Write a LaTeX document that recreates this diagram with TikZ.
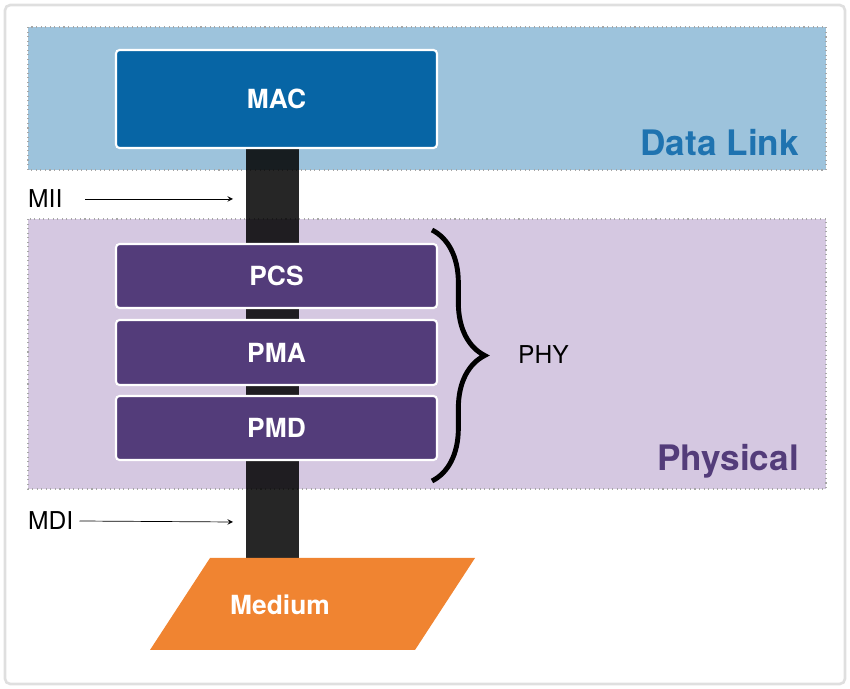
\documentclass[tikz,border=0pt]{standalone}
\usepackage{fontspec}
\setmainfont{TeX Gyre Heros}
\usetikzlibrary{decorations.pathreplacing}
\definecolor{dlband}{HTML}{9DC3DC}
\definecolor{phband}{HTML}{D5C8E1}
\definecolor{macblue}{HTML}{0765A5}
\definecolor{phypurple}{HTML}{533C7A}
\definecolor{dltext}{HTML}{1F73B0}
\definecolor{medorange}{HTML}{F08431}
\tikzset{
  band/.style={draw=gray!70, dotted, line width=0.6pt},
  layer/.style={draw=white, line width=1.2pt, rounded corners=2pt, text=white,
    font=\fontsize{15}{17}\selectfont\bfseries, minimum width=6.42cm},
  lbl/.style={font=\fontsize{14}{16}\selectfont, anchor=west}
}
\begin{document}
\begin{tikzpicture}[x=0.02cm, y=-0.02cm]
\useasboundingbox (0,0) rectangle (850,689);
\draw [gray!25, line width=1.5pt, rounded corners=3pt] (5,5) rectangle (845,684);
\fill [dlband] (28,27) rectangle (826,170);
\draw [band] (28,27) rectangle (826,170);
\fill [phband] (28,219) rectangle (826,489);
\draw [band] (28,219) rectangle (826,489);
\fill [black, opacity=0.85] (246,148) rectangle (299,560);
\node [layer, fill=macblue, minimum height=1.96cm] (mac) at (276.5,99) {MAC};
\node [layer, fill=phypurple, minimum height=1.28cm] (pcs) at (276.5,276) {PCS};
\node [layer, fill=phypurple, minimum height=1.3cm] (pma) at (276.5,352.5) {PMA};
\node [layer, fill=phypurple, minimum height=1.28cm] (pmd) at (276.5,428) {PMD};
\node [font=\fontsize{20}{23}\selectfont\bfseries, text=dltext, anchor=east] (dl) at (805,143) {Data Link};
\node [font=\fontsize{20}{23}\selectfont\bfseries, text=phypurple, anchor=east] (ph) at (805,461) {Physical};
\node [lbl] (mii) at (22,199) {MII};
\coordinate (miiend) at (233,199);
\draw [-stealth] (85,199) -- (miiend);
\node [lbl] (mdi) at (22,521) {MDI};
\coordinate (mdiend) at (233,522);
\draw [-stealth] (mdi.east) -- (mdiend);
\draw [decorate, decoration={brace, amplitude=30pt, aspect=0.5}, line width=2.8pt]
  (432,230) -- (432,481);
\node [lbl] (phy) at (512,355) {PHY};
\fill [medorange] (210,558) -- (475,558) -- (415,650) -- (150,650) -- cycle;
\node [text=white, font=\fontsize{15}{17}\selectfont\bfseries] (medium) at (280,605) {Medium};
\end{tikzpicture}
\end{document}
